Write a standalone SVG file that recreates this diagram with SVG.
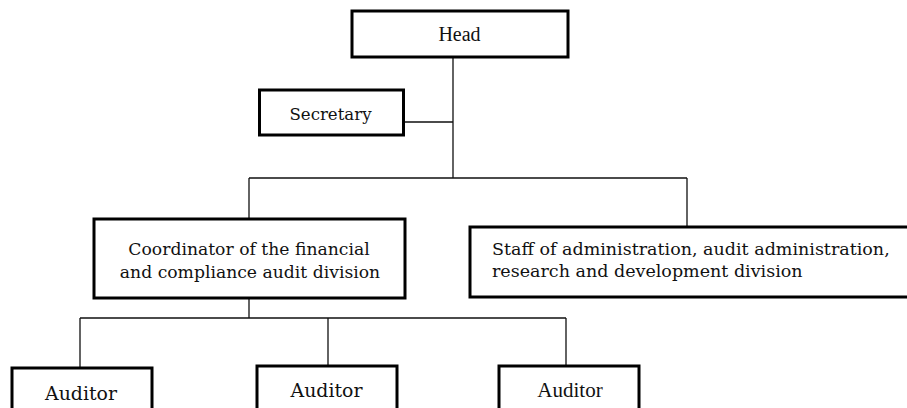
<svg xmlns="http://www.w3.org/2000/svg" width="907" height="408" viewBox="0 0 907 408">
<style>
.box{fill:#fff;stroke:#000;stroke-width:3}
.ln{fill:none;stroke:#111;stroke-width:1.3}
.g{font-family:"DejaVu Serif","Liberation Serif",serif;fill:#111}
.t{font-family:"Liberation Serif","Times New Roman",serif;fill:#111}
</style>
<rect width="907" height="408" fill="#fff"/>
<g id="connectors">
<path class="ln" d="M453 57V178M403 122H453M249 178H687M249 178V219M687 178V227M249 298V318M80 318H566M80 318V368M328 318V366M566 318V366"/>
</g>
<g id="head">
<rect class="box" x="352" y="11" width="216" height="46"/>
<text class="t" x="459.5" y="41" font-size="20" text-anchor="middle">Head</text>
</g>
<g id="secretary">
<rect class="box" x="259.5" y="90" width="144" height="45"/>
<text class="g" x="330.5" y="120" font-size="16.6" text-anchor="middle">Secretary</text>
</g>
<g id="coordinator">
<rect class="box" x="94" y="219" width="311" height="79"/>
<text class="g" font-size="17.2" text-anchor="middle"><tspan x="249" y="255">Coordinator of the financial</tspan><tspan x="250" y="278">and compliance audit division</tspan></text>
</g>
<g id="staff">
<rect class="box" x="470" y="227" width="445" height="70"/>
<text class="g" font-size="17.5"><tspan x="492" y="255">Staff of administration, audit administration,</tspan><tspan x="492" y="277">research and development division</tspan></text>
</g>
<g id="auditor1">
<rect class="box" x="12" y="368" width="140" height="50"/>
<text class="g" x="81" y="400" font-size="18.9" text-anchor="middle">Auditor</text>
</g>
<g id="auditor2">
<rect class="box" x="257" y="366" width="140" height="50"/>
<text class="g" x="326.5" y="397" font-size="18.9" text-anchor="middle">Auditor</text>
</g>
<g id="auditor3">
<rect class="box" x="499" y="366" width="140" height="50"/>
<text class="t" x="570" y="397" font-size="21" text-anchor="middle">Auditor</text>
</g>
</svg>
